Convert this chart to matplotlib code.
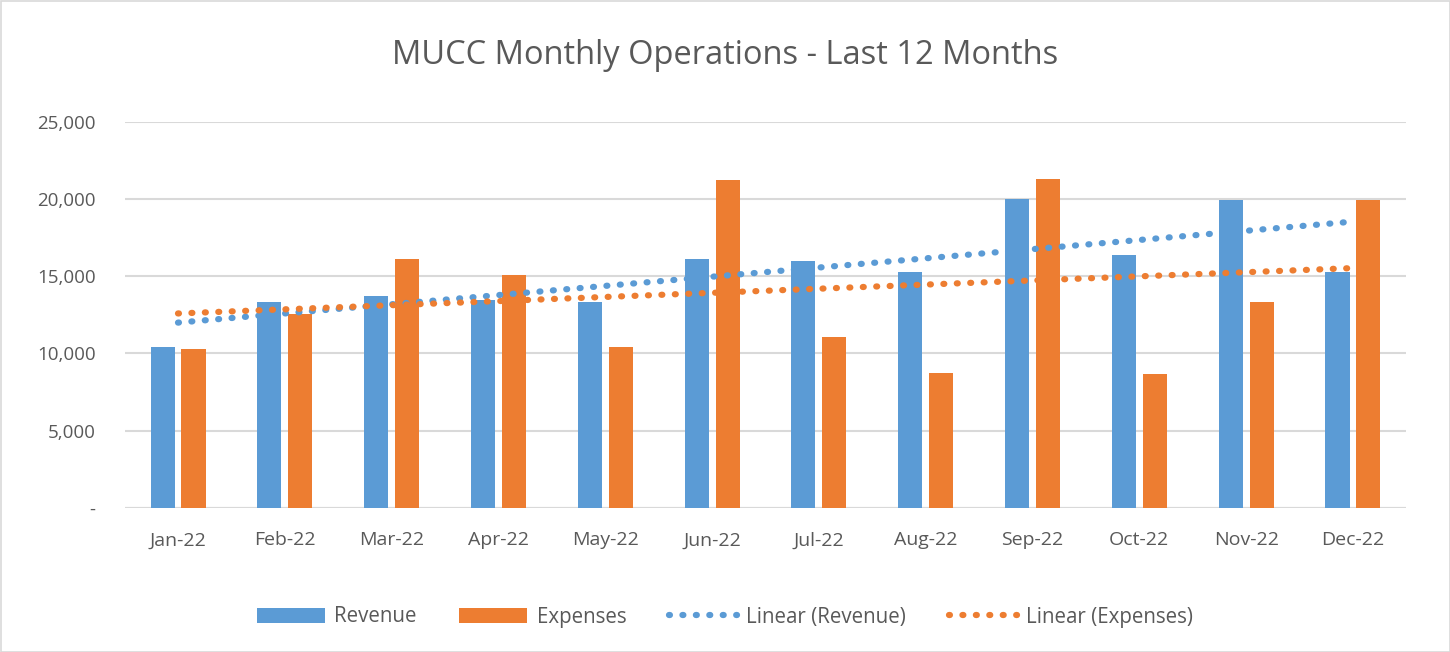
import numpy as np
import matplotlib.pyplot as plt
from matplotlib.patches import Rectangle

months = ["Jan-22", "Feb-22", "Mar-22", "Apr-22", "May-22", "Jun-22",
          "Jul-22", "Aug-22", "Sep-22", "Oct-22", "Nov-22", "Dec-22"]
revenue = [10400, 13300, 13700, 13450, 13350, 16100,
           16000, 15250, 20000, 16350, 19950, 15250]
expenses = [10300, 12550, 16100, 15100, 10400, 21200,
            11050, 8700, 21300, 8650, 13350, 19900]

blue = "#5B9BD5"
orange = "#ED7D31"
grey = "#595959"

plt.rcParams["font.family"] = ["Open Sans", "DejaVu Sans"]

fig = plt.figure(figsize=(14.5, 6.52), dpi=100)
ax = fig.add_axes([124.6 / 1450, 1 - 507.7 / 652, (1406.4 - 124.6) / 1450, (507.7 - 121.7) / 652])

x = np.arange(len(months))
w = 0.225
b1 = ax.bar(x - 0.145, revenue, w, color=blue, label="Revenue", zorder=2)
b2 = ax.bar(x + 0.145, expenses, w, color=orange, label="Expenses", zorder=2)

# linear trendlines like Excel
xs = np.arange(1, 13)
trend = []
for vals, col, name in [(revenue, blue, "Linear (Revenue)"), (expenses, orange, "Linear (Expenses)")]:
    k, b = np.polyfit(xs, vals, 1)
    ln, = ax.plot(x, k * xs + b, color=col, lw=4.5, linestyle=(0, (0.15, 2.0)),
                  dash_capstyle="round", label=name, zorder=3)
    trend.append(ln)

ax.set_xlim(-0.5, 11.5)
ax.set_ylim(0, 25000)
ax.set_yticks(range(0, 25001, 5000))
ax.set_yticklabels(["-", "5,000", "10,000", "15,000", "20,000", "25,000"])
ax.set_xticks(x)
ax.set_xticklabels(months)
ax.tick_params(length=0, labelsize=14, colors=grey, pad=17)
ax.tick_params(axis="y", labelsize=13.5, pad=21)
ax.grid(axis="y", color="#D9D9D9", lw=1.5, zorder=0)
for s in ax.spines.values():
    s.set_visible(False)
ax.axhline(0, color="#D9D9D9", lw=1.5, zorder=1)

fig.text(0.5, 1 - 55 / 652, "MUCC Monthly Operations - Last 12 Months",
         ha="center", va="center", fontsize=23.5, color=grey)

leg = fig.legend([b1, b2] + trend,
                 ["Revenue", "Expenses", "Linear (Revenue)", "Linear (Expenses)"],
                 loc="center", bbox_to_anchor=(0.5, 1 - 617 / 652), ncol=4,
                 frameon=False, fontsize=14.8, handlelength=3.3, handleheight=0.7,
                 columnspacing=2.1, handletextpad=0.45)
for t in leg.get_texts():
    t.set_color(grey)

fig.patches.append(Rectangle((0.5 / 1450, 0.5 / 652), 1 - 1 / 1450, 1 - 1 / 652,
                             transform=fig.transFigure, fill=False,
                             edgecolor="#D9D9D9", lw=1.2))

fig.savefig("out.png", dpi=100)
